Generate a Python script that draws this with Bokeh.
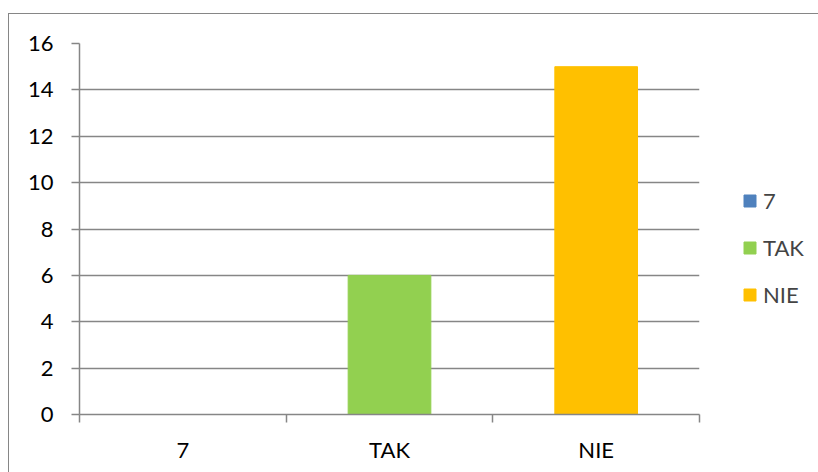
from bokeh.plotting import figure
from bokeh.models import ColumnDataSource, FixedTicker, Legend, LegendItem
from bokeh.embed import file_html
from bokeh.resources import INLINE

categories = ["7", "TAK", "NIE"]
values = [0, 6, 15]
colors = ["#4F81BD", "#92D050", "#FFC000"]
y_ticks = [0, 2, 4, 6, 8, 10, 12, 14, 16]

FONT = "Lato"
GRAY = "#868686"

xpos = [i + 0.5 for i in range(len(categories))]
src = ColumnDataSource(dict(x=xpos, top=values, color=colors, cat=categories))

p = figure(width=810, height=459, frame_width=620, frame_height=371,
           output_backend="svg", toolbar_location=None,
           x_range=(0, len(categories)), y_range=(0, 16),
           min_border_left=70, min_border_top=29, min_border_bottom=59, min_border_right=120)
p.margin = (13, 0, 0, 8)
p.styles = {"border-left": "1.5px solid " + GRAY, "border-top": "1.5px solid " + GRAY}
p.outline_line_color = None
p.background_fill_color = "white"
p.border_fill_color = "white"

r = p.vbar(x="x", top="top", width=0.4, color="color", source=src)

# x axis: labels at category centres, ticks at category boundaries
p.xaxis.ticker = FixedTicker(ticks=xpos, minor_ticks=list(range(len(categories) + 1)))
p.xaxis.major_label_overrides = {x: c for x, c in zip(xpos, categories)}
p.xaxis.major_tick_out = 0
p.xaxis.major_tick_in = 0
p.xaxis.minor_tick_out = 8
p.xaxis.minor_tick_in = 0
p.xaxis.minor_tick_line_color = GRAY
p.xaxis.minor_tick_line_width = 1.5
p.xaxis.axis_line_color = GRAY
p.xaxis.axis_line_width = 1.5
p.xaxis.major_label_text_font = FONT
p.xaxis.major_label_text_font_size = "22px"
p.xaxis.major_label_text_color = "black"
p.xaxis.major_label_standoff = 13

p.yaxis.ticker = FixedTicker(ticks=y_ticks)
p.yaxis.major_tick_out = 8
p.yaxis.major_tick_in = 0
p.yaxis.minor_tick_line_color = None
p.yaxis.major_tick_line_color = GRAY
p.yaxis.major_tick_line_width = 1.5
p.yaxis.axis_line_color = GRAY
p.yaxis.axis_line_width = 1.5
p.yaxis.major_label_text_font = FONT
p.yaxis.major_label_text_font_size = "22px"
p.yaxis.major_label_text_color = "black"
p.yaxis.major_label_standoff = 18

p.xgrid.grid_line_color = None
p.ygrid.ticker = FixedTicker(ticks=y_ticks)
p.ygrid.grid_line_color = GRAY
p.ygrid.grid_line_width = 1.5

items = [LegendItem(label=c, renderers=[r], index=i) for i, c in enumerate(categories)]
legend = Legend(items=items, location=(43, 106), border_line_color=None,
                background_fill_alpha=0, label_text_font=FONT,
                label_text_font_size="22px", glyph_width=15, glyph_height=15,
                spacing=20, label_standoff=6, padding=0, margin=0)
p.add_layout(legend, "right")

open("out.html", "w").write(file_html(p, INLINE))
